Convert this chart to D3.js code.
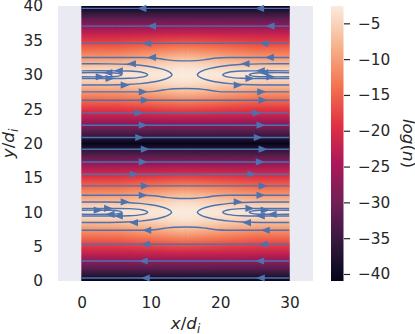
<!DOCTYPE html>
<html>
<head>
<meta charset="UTF-8">
<title>log(n) streamlines</title>
<script src="https://cdn.jsdelivr.net/npm/d3@7"></script>
<style>
    body{
        margin: 0;
        background: #fff;
    }
    text{
        font-family: "DejaVu Sans", sans-serif;
        fill: #262626;
    }
    .tick text{
        font-size: 15.3px;
    }
    .etiqueta{
        font-size: 16.7px;
    }
    .lineas path{
        fill: none;
        stroke: #4c72b0;
        stroke-width: 1.4;
    }
    .flechas path{
        fill: #4c72b0;
    }
</style>
</head>
<body>
<svg id="grafico" width="415" height="334"></svg>
<script>

// log(n) across the two current sheets: one row per column x, one value per offset from the sheet centre
var sheetCenters = [10, 30];
var offsets = [0, 0.5, 1, 1.5, 2, 2.5, 3, 3.5, 4, 5, 6, 7, 8, 9, 10];
var columnX = [0, 5, 10, 15, 20, 25, 30];
var logN = [
    [-3.5, -4.2, -5.6, -7.2, -9.0, -10.8, -12.4, -14.0, -15.5, -18.8, -22.5, -26.8, -31.2, -35.8, -40.8],
    [-3.4, -4.0, -5.4, -7.0, -8.8, -10.6, -12.2, -13.8, -15.4, -18.7, -22.4, -26.8, -31.2, -35.8, -40.8],
    [-3.0, -3.4, -4.4, -5.7, -7.2, -8.9, -10.6, -12.4, -14.2, -18.0, -22.1, -26.6, -31.1, -35.8, -40.8],
    [-2.6, -2.8, -3.3, -4.2, -5.5, -7.2, -9.0, -11.0, -13.0, -17.2, -21.8, -26.5, -31.0, -35.8, -40.8],
    [-3.0, -3.4, -4.4, -5.7, -7.2, -8.9, -10.6, -12.4, -14.2, -18.0, -22.1, -26.6, -31.1, -35.8, -40.8],
    [-3.4, -4.0, -5.4, -7.0, -8.8, -10.6, -12.2, -13.8, -15.4, -18.7, -22.4, -26.8, -31.2, -35.8, -40.8],
    [-3.5, -4.2, -5.6, -7.2, -9.0, -10.8, -12.4, -14.0, -15.5, -18.8, -22.5, -26.8, -31.2, -35.8, -40.8]
];

// colour bar limits and the seaborn "rocket" colormap
var cbMin = -40.98;
var cbMax = -2.58;
var rocketStops = [0, 1/7, 2/7, 3/7, 4/7, 5/7, 6/7, 1];
var rocketColors = ["#03051a", "#35193e", "#701f57", "#ad1759", "#e13342", "#f37651", "#f6b48f", "#faebdd"];

var xTicks = [0, 10, 20, 30];
var yTicks = [0, 5, 10, 15, 20, 25, 30, 35, 40];
var cbTicks = [-5, -10, -15, -20, -25, -30, -35, -40];

// straight streamlines: y, flow direction (+1 right, -1 left), arrow x positions
var flatY   = [39.65, 37.08, 34.56, 26.30, 24.45, 22.66, 20.87, 19.17, 17.32, 15.53, 13.83, 5.34, 2.91, 0.44];
var flatDir = [-1, -1, -1, 1, 1, 1, 1, 1, 1, 1, 1, -1, -1, -1];
var flatArrows = [
    [8.7, 25.7], [10.1, 27.2], [9.4, 26.3], [9.2, 26.2], [8.3, 25.3], [8.9, 25.9], [8.4, 25.5],
    [9.2, 26.2], [8.9, 25.8], [7.6, 24.6], [9.2, 26.2], [9.2, 26.2], [8.9, 25.7], [9.2, 25.8]
];

// streamlines that pinch toward the sheet around x = 15
var pinchShapeX = [0, 9, 10.5, 12, 13.5, 15, 16.5, 18, 19.5, 21, 30];
var pinchShapeK = [0, 0, 0.15, 0.6, 0.92, 1, 0.92, 0.6, 0.15, 0, 0];
var pinchY    = [32.52, 27.51, 12.47, 7.38];
var pinchDip  = [-0.5, 0.5, -0.47, 0.48];
var pinchDir  = [-1, 1, 1, -1];
var pinchArrows = [[10.1, 27.1], [8.9, 26.0], [8.9, 25.9], [9.4, 26.5]];

// closed loops leaving the side edges: sheet centre, edge x, tip x, half heights above / below
var loopCenter = [30, 30, 30, 30, 30, 30, 10, 10, 10, 10, 10, 10];
var loopEdge   = [0, 30, 0, 30, 0, 30, 0, 30, 0, 30, 0, 30];
var loopTip    = [13.06, 16.71, 9.55, 20.37, 5.8, 24.2, 13.0, 16.71, 9.55, 20.37, 5.8, 24.2];
var loopUp     = [1.6, 1.6, 0.57, 0.57, 0.3, 0.3, 1.5, 1.5, 0.55, 0.55, 0.3, 0.3];
var loopDown   = [1.5, 1.5, 0.54, 0.54, 0.3, 0.3, 1.5, 1.5, 0.54, 0.54, 0.3, 0.3];
var loopOuter  = [true, true, false, false, false, false, true, true, false, false, false, false];
// loop outline, u = 0 at the edge to 1 at the tip, v = share of the half height
var outerShapeU = [0, 0.3, 0.5, 0.65, 0.77, 0.87, 0.94, 0.98, 1];
var outerShapeV = [1, 0.99, 0.95, 0.86, 0.73, 0.56, 0.38, 0.2, 0];
var innerShapeU = [0, 0.55, 0.72, 0.83, 0.91, 0.96, 0.99, 1];
var innerShapeV = [1, 1, 0.95, 0.83, 0.65, 0.43, 0.2, 0];
// arrows on the loops: x, y, direction
var loopArrowX = [7.2, 6.3, 23.6, 22.6, 5.3, 4.1, 25.8, 24.3, 3.8, 2.7, 26.3, 27.3,
                  6.3, 7.5, 22.6, 23.8, 3.9, 5.3, 24.3, 25.8, 2.4, 4.1, 26.5, 27.5];
var loopArrowY = [31.6, 28.5, 31.6, 28.5, 30.57, 29.46, 30.57, 29.46, 30.3, 29.7, 30.3, 29.7,
                  11.5, 8.5, 11.5, 8.5, 10.55, 9.46, 10.55, 9.46, 10.3, 9.7, 10.3, 9.7];
var loopArrowDir = [-1, 1, -1, 1, -1, 1, -1, 1, -1, 1, -1, 1,
                    1, -1, 1, -1, 1, -1, 1, -1, 1, -1, 1, -1];

var svg = d3.select("#grafico");

var x = d3.scaleLinear().domain([-3.4, 33.4]).range([58, 313]);
var y = d3.scaleLinear().domain([0, 40]).range([281, 6]);
var color = d3.scaleLinear()
    .domain(rocketStops.map(function(t){ return cbMin + t * (cbMax - cbMin); }))
    .range(rocketColors)
    .clamp(true);

var defs = svg.append("defs");

// one vertical gradient per column of the log(n) table
columnX.forEach(function(cx, j){
    var stops = [];
    sheetCenters.forEach(function(c){
        offsets.forEach(function(d, i){
            stops.push({y: c - d, v: logN[j][i]});
            if (d > 0) stops.push({y: c + d, v: logN[j][i]});
        });
    });
    stops.sort(function(a, b){ return a.y - b.y; });
    defs.append("linearGradient")
        .attr("id", "col" + j)
        .attr("gradientUnits", "userSpaceOnUse")
        .attr("x1", 0).attr("x2", 0)
        .attr("y1", y(0)).attr("y2", y(40))
        .selectAll("stop")
        .data(stops)
        .enter()
        .append("stop")
        .attr("offset", function(s){ return s.y / 40; })
        .attr("stop-color", function(s){ return color(s.v); });
});

// horizontal ramp to blend one column into the next
var ramp = defs.append("linearGradient").attr("id", "ramp");
ramp.append("stop").attr("offset", 0).attr("stop-color", "#fff").attr("stop-opacity", 0);
ramp.append("stop").attr("offset", 1).attr("stop-color", "#fff").attr("stop-opacity", 1);
defs.append("mask")
    .attr("id", "rampMask")
    .attr("maskContentUnits", "objectBoundingBox")
    .style("mask-type", "alpha")
    .append("rect")
    .attr("width", 1).attr("height", 1)
    .attr("fill", "url(#ramp)");

defs.append("clipPath").attr("id", "datos")
    .append("rect")
    .attr("x", x(0)).attr("y", y(40))
    .attr("width", x(30) - x(0)).attr("height", y(0) - y(40));

// axes background
svg.append("rect")
    .attr("x", x(-3.4)).attr("y", y(40))
    .attr("width", x(33.4) - x(-3.4)).attr("height", y(0) - y(40))
    .attr("fill", "#eaeaf2");

// heat map
var mapa = svg.append("g");
mapa.append("rect")
    .attr("x", x(0)).attr("y", y(40))
    .attr("width", x(30) - x(0)).attr("height", y(0) - y(40))
    .attr("fill", "url(#col0)");
d3.range(columnX.length - 1).forEach(function(j){
    var x0 = x(columnX[j]), x1 = x(columnX[j + 1]);
    mapa.append("rect")
        .attr("x", x0).attr("y", y(40))
        .attr("width", x1 - x0).attr("height", y(0) - y(40))
        .attr("fill", "url(#col" + j + ")");
    mapa.append("rect")
        .attr("x", x0).attr("y", y(40))
        .attr("width", x1 - x0).attr("height", y(0) - y(40))
        .attr("fill", "url(#col" + (j + 1) + ")")
        .attr("mask", "url(#rampMask)");
});

// streamlines
var lineas = svg.append("g").classed("lineas", true).attr("clip-path", "url(#datos)");
var flechas = svg.append("g").classed("flechas", true);

var curva = d3.line()
    .x(function(p){ return x(p[0]); })
    .y(function(p){ return y(p[1]); });

function flecha(ax, ay, dir){
    flechas.append("path")
        .attr("d", "M-4.5,-3.6L4.5,0L-4.5,3.6Z")
        .attr("transform", "translate(" + x(ax) + "," + y(ay) + ") scale(" + dir + ",1)");
}

flatY.forEach(function(ly, i){
    lineas.append("path").attr("d", curva([[0, ly], [30, ly]]));
    flatArrows[i].forEach(function(ax){ flecha(ax, ly, flatDir[i]); });
});

pinchY.forEach(function(ly, i){
    var pts = pinchShapeX.map(function(px, k){ return [px, ly + pinchDip[i] * pinchShapeK[k]]; });
    lineas.append("path").attr("d", curva.curve(d3.curveMonotoneX)(pts));
    pinchArrows[i].forEach(function(ax){ flecha(ax, ly, pinchDir[i]); });
});

loopCenter.forEach(function(c, i){
    var su = loopOuter[i] ? outerShapeU : innerShapeU;
    var sv = loopOuter[i] ? outerShapeV : innerShapeV;
    var span = loopTip[i] - loopEdge[i];
    var top = su.map(function(u, k){ return [loopEdge[i] + u * span, c + sv[k] * loopUp[i]]; });
    var bottom = su.slice(0, -1).reverse().map(function(u, k){
        var kk = su.length - 2 - k;
        return [loopEdge[i] + u * span, c - sv[kk] * loopDown[i]];
    });
    lineas.append("path").attr("d", curva.curve(d3.curveCatmullRom)(top.concat(bottom)));
});

loopArrowX.forEach(function(ax, i){ flecha(ax, loopArrowY[i], loopArrowDir[i]); });

// axes
var ejeY = svg.append("g")
    .attr("transform", "translate(" + x(-3.4) + ",0)")
    .call(d3.axisLeft(y).tickValues(yTicks).tickSize(0).tickPadding(15));
var ejeX = svg.append("g")
    .attr("transform", "translate(0," + y(0) + ")")
    .call(d3.axisBottom(x).tickValues(xTicks).tickSize(0).tickPadding(16));
[ejeY, ejeX].forEach(function(g){
    g.select(".domain").remove();
    g.selectAll("text").attr("fill", "#262626").style("font-family", "'DejaVu Sans', sans-serif");
});

var tX = svg.append("text").classed("etiqueta", true)
    .attr("x", (x(-3.4) + x(33.4)) / 2).attr("y", 329)
    .attr("text-anchor", "middle");
tX.append("tspan").attr("font-style", "italic").text("x");
tX.append("tspan").text("/");
tX.append("tspan").attr("font-style", "italic").text("d");
tX.append("tspan").attr("font-style", "italic").attr("font-size", "11.7px").attr("dy", 3.5).text("i");

var tY = svg.append("text").classed("etiqueta", true)
    .attr("transform", "translate(14," + (y(20)) + ") rotate(-90)")
    .attr("text-anchor", "middle");
tY.append("tspan").attr("font-style", "italic").text("y");
tY.append("tspan").text("/");
tY.append("tspan").attr("font-style", "italic").text("d");
tY.append("tspan").attr("font-style", "italic").attr("font-size", "11.7px").attr("dy", 3.5).text("i");

// colour bar
var cb = d3.scaleLinear().domain([cbMin, cbMax]).range([281, 6]);
var cbGrad = defs.append("linearGradient")
    .attr("id", "cbGrad")
    .attr("gradientUnits", "userSpaceOnUse")
    .attr("x1", 0).attr("x2", 0)
    .attr("y1", cb(cbMin)).attr("y2", cb(cbMax));
cbGrad.selectAll("stop")
    .data(rocketStops)
    .enter()
    .append("stop")
    .attr("offset", function(t){ return t; })
    .attr("stop-color", function(t, i){ return rocketColors[i]; });

svg.append("rect")
    .attr("x", 331).attr("y", cb(cbMax))
    .attr("width", 12.5).attr("height", cb(cbMin) - cb(cbMax))
    .attr("fill", "url(#cbGrad)");

var ejeCb = svg.append("g")
    .attr("transform", "translate(344,0)")
    .call(d3.axisRight(cb).tickValues(cbTicks).tickSize(6).tickPadding(8).tickFormat(d3.format("d")));
ejeCb.select(".domain").remove();
ejeCb.selectAll("line").attr("stroke", "#262626").attr("stroke-width", 1.2);
ejeCb.selectAll("text").attr("fill", "#262626").style("font-family", "'DejaVu Sans', sans-serif");

var tCb = svg.append("text").classed("etiqueta", true)
    .attr("transform", "translate(403," + y(20) + ") rotate(90)")
    .attr("text-anchor", "middle");
tCb.append("tspan").attr("font-style", "italic").text("log");
tCb.append("tspan").text("(");
tCb.append("tspan").attr("font-style", "italic").text("n");
tCb.append("tspan").text(")");

</script>
</body>
</html>
